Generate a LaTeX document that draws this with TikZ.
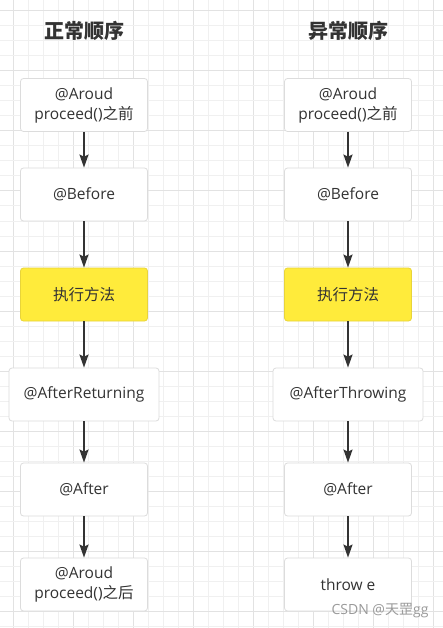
\documentclass[tikz,border=0pt]{standalone}
\usepackage{fontspec}
\setmainfont{Open Sans}
\newfontfamily\cjk{Noto Sans CJK SC}
\usetikzlibrary{arrows.meta}
\definecolor{txt}{HTML}{333333}
\definecolor{gridminor}{HTML}{F0F0F0}
\definecolor{gridmajor}{HTML}{E2E2E2}
\definecolor{boxline}{HTML}{DCDCDC}
\definecolor{yfill}{HTML}{FFEB3B}
\definecolor{yline}{HTML}{E8D43A}
\definecolor{wm}{HTML}{9A9A9A}
\begin{document}
\begin{tikzpicture}[x=1pt,y=-1pt,
  box/.style={draw=boxline, fill=white, rounded corners=3pt, minimum width=127pt,
    minimum height=53pt, align=center, text=txt, inner sep=0pt, line width=0.8pt,
    font=\fontsize{15.5}{20}\selectfont},
  widebox/.style={box, minimum width=150pt},
  ybox/.style={box, fill=yfill, draw=yline},
  title/.style={text=txt, font=\fontsize{20}{20}\selectfont\cjk\bfseries},
  flow/.style={draw=txt, line width=1.6pt, -{Stealth[length=13pt,width=9pt,inset=2pt]}}]
\useasboundingbox (0,0) rectangle (443,628);
\fill[white] (0,0) rectangle (443,628);
% grid
\foreach \i in {0,...,28}{
  \pgfmathtruncatemacro{\m}{mod(\i,4)}
  \ifnum\m=0 \draw[gridmajor, line width=1pt] ({13.3+15*\i},0) -- ({13.3+15*\i},628);
  \else \draw[gridminor, line width=1pt] ({13.3+15*\i},0) -- ({13.3+15*\i},628); \fi
}
\foreach \i in {0,...,41}{
  \pgfmathtruncatemacro{\m}{mod(\i,4)}
  \ifnum\m=0 \draw[gridmajor, line width=1pt] (0,{11+15*\i}) -- (443,{11+15*\i});
  \else \draw[gridminor, line width=1pt] (0,{11+15*\i}) -- (443,{11+15*\i}); \fi
}
% titles
\node[title] (t1) at (84,31) {正常顺序};
\node[title] (t2) at (348,31) {异常顺序};
% left column
\node[box] (a1) at (84,105) {@Aroud\\proceed()\cjk 之前};
\node[box] (a2) at (84,194.5) {@Before};
\node[ybox] (a3) at (84,294.5) {\cjk 执行方法};
\node[widebox] (a4) at (84,394.5) {@AfterReturning};
\node[box] (a5) at (84,489.5) {@After};
\node[box] (a6) at (84,584.5) {@Aroud\\proceed()\cjk 之后};
% right column
\node[box] (b1) at (348,105) {@Aroud\\proceed()\cjk 之前};
\node[box] (b2) at (348,194.5) {@Before};
\node[ybox] (b3) at (348,294.5) {\cjk 执行方法};
\node[widebox] (b4) at (348,394.5) {@AfterThrowing};
\node[box] (b5) at (348,489.5) {@After};
\node[box] (b6) at (348,584.5) {throw e};
% connectors
\foreach \p/\q in {a1/a2,a2/a3,a3/a4,a4/a5,a5/a6,b1/b2,b2/b3,b3/b4,b4/b5,b5/b6}
  \draw[flow] (\p.south) -- (\q.north);
% watermark
\node[text=wm, font=\fontsize{14}{14}\selectfont, inner sep=0pt] (wmk) at (380,611) {CSDN @{\cjk 天罡}gg};
\end{tikzpicture}
\end{document}
